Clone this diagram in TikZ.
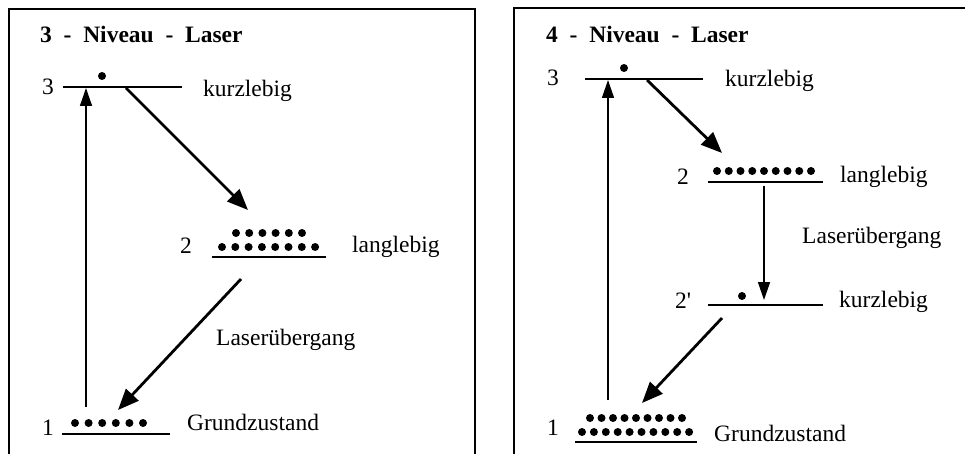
\documentclass[tikz,border=0pt]{standalone}
\usepackage{fontspec}
\setmainfont{Liberation Serif}
\usetikzlibrary{arrows.meta, positioning}

\begin{document}
\begin{tikzpicture}[
    x=1pt, y=-1pt,
    frame/.style={
        line width=1.2pt,
    },
    level/.style={
        line width=2pt,
    },
    pump/.style={
        line width=1.5pt,
        -{Triangle[length=18pt, width=12pt]},
    },
    decay/.style={
        line width=2.8pt,
        -{Triangle[length=21pt, width=17pt]},
    },
    dot/.style={
        circle,
        fill,
        inner sep=0pt,
        minimum size=8pt,
    },
    txt/.style={
        anchor=base west,
        inner sep=0pt,
        font=\fontsize{23.5}{28}\selectfont,
    },
    title/.style={
        txt,
        font=\fontsize{23.5}{28}\selectfont\bfseries,
    }
]
    \useasboundingbox (0,0) rectangle (965,454);

    % Frames
    \draw[frame] (9,454) -- (9,9) -- (475,9) -- (475,454);
    \draw[frame] (514,454) -- (514,8) -- (965,8);

    % ---- 3-Niveau-Laser ----
    \node[title] (titleA) at (40,43) {3 \ - \ Niveau \ - \ Laser};

    % Level 3
    \draw[level] (63,87) -- (182,87);
    \node[dot] (dotA3) at (102,76) {};
    \node[txt] (numA3) at (42,95) {3};
    \node[txt] (lifeA3) at (203,97) {kurzlebig};

    % Level 2
    \draw[level] (212,257) -- (326,257);
    \foreach \i in {0,...,5} \node[dot] (dotA2t\i) at (236+\i*13.2,233) {};
    \foreach \i in {0,...,7} \node[dot] (dotA2b\i) at (222+\i*13.3,247) {};
    \node[txt] (numA2) at (180,253) {2};
    \node[txt] (lifeA2) at (352,252) {langlebig};

    % Level 1
    \draw[level] (62,434) -- (170,434);
    \foreach \i in {0,...,5} \node[dot] (dotA1\i) at (75+\i*13.6,423) {};
    \node[txt] (numA1) at (42,435) {1};
    \node[txt] (lifeA1) at (187,430) {Grundzustand};

    \node[txt] (laserA) at (216,345) {Laser\"ubergang};

    % Transitions
    \coordinate (pumpA0) at (86,407);
    \coordinate (pumpA1) at (86,88);
    \coordinate (fallA0) at (126,88);
    \coordinate (fallA1) at (248,210);
    \coordinate (laseA0) at (241,279);
    \coordinate (laseA1) at (118,410);
    \draw[pump] (pumpA0) -- (pumpA1);
    \draw[decay] (fallA0) -- (fallA1);
    \draw[decay] (laseA0) -- (laseA1);

    % ---- 4-Niveau-Laser ----
    \node[title] (titleB) at (546,43) {4 \ - \ Niveau \ - \ Laser};

    % Level 3
    \draw[level] (585,79) -- (703,79);
    \node[dot] (dotB3) at (624,68) {};
    \node[txt] (numB3) at (547,86) {3};
    \node[txt] (lifeB3) at (725,87) {kurzlebig};

    % Level 2
    \draw[level] (708,182) -- (823,182);
    \foreach \i in {0,...,8} \node[dot] (dotB2\i) at (717+\i*11.75,171) {};
    \node[txt] (numB2) at (677,185) {2};
    \node[txt] (lifeB2) at (840,183) {langlebig};

    \node[txt] (laserB) at (802,243) {Laser\"ubergang};

    % Level 2'
    \draw[level] (708,305) -- (823,305);
    \node[dot] (dotB2p) at (742,296) {};
    \node[txt] (numB2p) at (675,308) {2\textquotesingle};
    \node[txt] (lifeB2p) at (839,307) {kurzlebig};

    % Level 1
    \draw[level] (575,442) -- (697,442);
    \foreach \i in {0,...,8} \node[dot] (dotB1t\i) at (590+\i*11.5,418) {};
    \foreach \i in {0,...,9} \node[dot] (dotB1b\i) at (582+\i*11.9,432) {};
    \node[txt] (numB1) at (547,435) {1};
    \node[txt] (lifeB1) at (714,441) {Grundzustand};

    % Transitions
    \coordinate (pumpB0) at (608,400);
    \coordinate (pumpB1) at (608,80);
    \coordinate (fallB0) at (647,80);
    \coordinate (fallB1) at (722,153);
    \coordinate (laseB0) at (764,186);
    \coordinate (laseB1) at (764,300);
    \coordinate (dropB0) at (722,318);
    \coordinate (dropB1) at (642,403);
    \draw[pump] (pumpB0) -- (pumpB1);
    \draw[decay] (fallB0) -- (fallB1);
    \draw[pump] (laseB0) -- (laseB1);
    \draw[decay] (dropB0) -- (dropB1);
\end{tikzpicture}
\end{document}
